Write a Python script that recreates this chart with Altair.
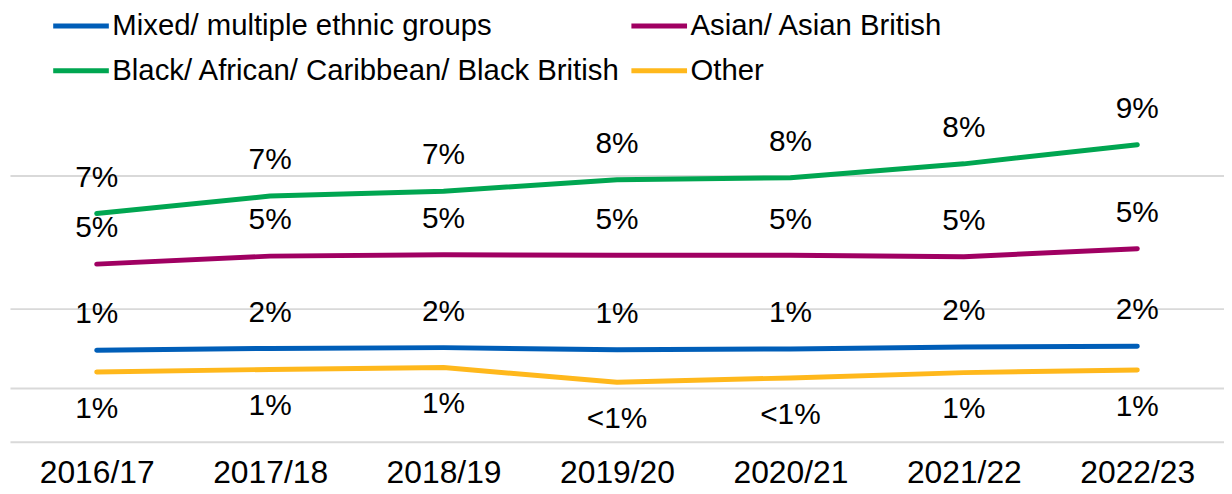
import altair as alt
import pandas as pd

years = ["2016/17", "2017/18", "2018/19", "2019/20", "2020/21", "2021/22", "2022/23"]
series_names = [
    "Mixed/ multiple ethnic groups",
    "Asian/ Asian British",
    "Black/ African/ Caribbean/ Black British",
    "Other",
]
series_colors = ["#005EB8", "#A00062", "#00A651", "#FFB81C"]
# legend fills column by column: this order puts Mixed, Asian on row 1
legend_order = [series_names[0], series_names[2], series_names[1], series_names[3]]
legend_colors = [series_colors[0], series_colors[2], series_colors[1], series_colors[3]]

mixed = [1.44, 1.51, 1.54, 1.46, 1.49, 1.56, 1.59]
asian = [4.68, 4.98, 5.03, 5.01, 5.01, 4.96, 5.26]
black = [6.58, 7.24, 7.42, 7.85, 7.93, 8.45, 9.17]
other = [0.62, 0.72, 0.79, 0.24, 0.40, 0.60, 0.70]

mixed_labels = ["1%", "2%", "2%", "1%", "1%", "2%", "2%"]
asian_labels = ["5%", "5%", "5%", "5%", "5%", "5%", "5%"]
black_labels = ["7%", "7%", "7%", "8%", "8%", "8%", "9%"]
other_labels = ["1%", "1%", "1%", "<1%", "<1%", "1%", "1%"]

grid_values = [-2, 0, 3, 8]

rows = []
for name, vals, labs in zip(series_names, [mixed, asian, black, other],
                            [mixed_labels, asian_labels, black_labels, other_labels]):
    for yr, v, lab in zip(years, vals, labs):
        rows.append({"year": yr, "group": name, "value": v, "label": lab})
df = pd.DataFrame(rows)

FONT = "Liberation Sans"

x = alt.X(
    "year:N", sort=years,
    scale=alt.Scale(type="point", padding=0.5),
    axis=alt.Axis(title=None, labelAngle=0, labelFontSize=32, labelFont=FONT,
                  labelColor="#000000", labelPadding=41, labelBaseline="alphabetic",
                  ticks=False, domain=False, grid=False),
)
y = alt.Y(
    "value:Q",
    scale=alt.Scale(domain=[-2, 11], nice=False, zero=False),
    axis=alt.Axis(title=None, values=grid_values, labels=False, ticks=False,
                  domain=False, grid=True, gridColor="#D9D9D9", gridWidth=2),
)
color = alt.Color(
    "group:N", sort=legend_order,
    scale=alt.Scale(domain=legend_order, range=legend_colors),
    legend=alt.Legend(title=None, orient="none", legendX=55, legendY=-87,
                      columns=2, symbolType="M-2,0H2", symbolSize=784,
                      symbolStrokeWidth=5, labelFontSize=29.5, labelFont=FONT,
                      labelLimit=0, labelOffset=15, columnPadding=0,
                      rowPadding=14, padding=0, labelColor="#000000"),
)

lines = alt.Chart(df).mark_line(strokeWidth=5, strokeCap="round", strokeJoin="round").encode(
    x=x, y=y, color=color
)
above = alt.Chart(df).transform_filter(alt.datum.group != "Other").mark_text(
    dy=-36, fontSize=30, font=FONT, color="#000000", baseline="middle"
).encode(x=x, y=y, text="label:N")
below = alt.Chart(df).transform_filter(alt.datum.group == "Other").mark_text(
    dy=37, fontSize=30, font=FONT, color="#000000", baseline="middle"
).encode(x=x, y=y, text="label:N")

chart = alt.layer(lines, above, below).properties(
    width=1222, height=348,
    autosize=alt.AutoSizeParams(type="none"),
    padding={"left": 2, "top": 87, "right": 0, "bottom": 55},
).configure_view(strokeWidth=0)

chart.save("out.html", embed_options={"renderer": "svg", "actions": False})
